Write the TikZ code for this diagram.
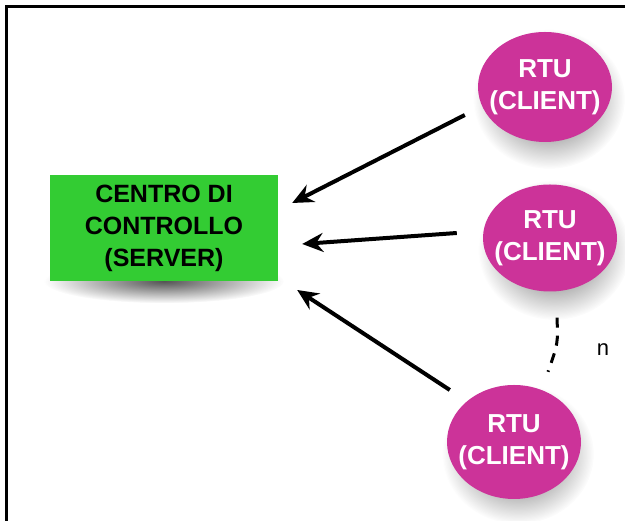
\documentclass[tikz,border=0pt]{standalone}
\usepackage{fontspec}
\setmainfont{Liberation Sans}
\usetikzlibrary{calc,arrows.meta,shapes.geometric,fadings,backgrounds}
\definecolor{srvgreen}{RGB}{51,204,51}
\definecolor{rtupink}{RGB}{204,51,153}
\tikzfading[name=softblob, inner color=transparent!10, outer color=transparent!100]
\tikzset{
  rtu/.style={ellipse, fill=rtupink, text=white, minimum width=134pt, minimum height=110pt, inner sep=-9pt, align=center, font=\fontsize{26}{32}\selectfont\bfseries},
  link/.style={-{Stealth[length=21pt,width=19pt,inset=7pt]}, line width=4pt},
  blur/.style={fill=black, opacity=0.75, path fading=softblob}
}
\begin{document}
\begin{tikzpicture}[x=1pt,y=1pt]
\useasboundingbox (0,0) rectangle (625,521);
\draw[line width=3pt] (6,0) -- (6,514) -- (625,514);

\draw node [rectangle, fill=srvgreen, minimum width=228pt, minimum height=106pt, align=center, font=\fontsize{25}{32}\selectfont\bfseries] (srv) at (164,293) {CENTRO DI\\CONTROLLO\\(SERVER)};

\draw node [rtu] (c1) at (545,434) {RTU\\(CLIENT)};
\draw node [rtu, minimum height=107pt] (c2) at (550,283) {RTU\\(CLIENT)};
\draw node [rtu, minimum height=114pt] (c3) at (514,79) {RTU\\(CLIENT)};

% soft shadows
\begin{scope}[on background layer]
\fill[blur] ($ (srv.south)+(0,0)$) ellipse (120 and 22);
\foreach \c in {c1,c2,c3}
  \fill[blur] ($ (\c.center)+(4,-12)$) ellipse (76 and 70);
\end{scope}

\draw[link] ($ (c1.west)+(-13,-28)$) -- ($ (srv.east)+(14,25)$);
\draw[link] ($ (c2.west)+(-26,5)$) -- ($ (srv.east)+(24,-16)$);
\draw[link] ($ (c3.west)+(3,52)$) -- ($ (srv.east)+(19,-62)$);

\draw[line width=3pt, dash pattern=on 10pt off 8pt] ($ (c2.south)+(7,-26)$) .. controls ($ (c2.south)+(8,-52)$) .. ($ (c3.north)+(34,13)$);
\draw node [font=\fontsize{22}{26}\selectfont] (nlab) at ($ (c2.south)+(53,-58)$) {n};

\end{tikzpicture}
\end{document}
